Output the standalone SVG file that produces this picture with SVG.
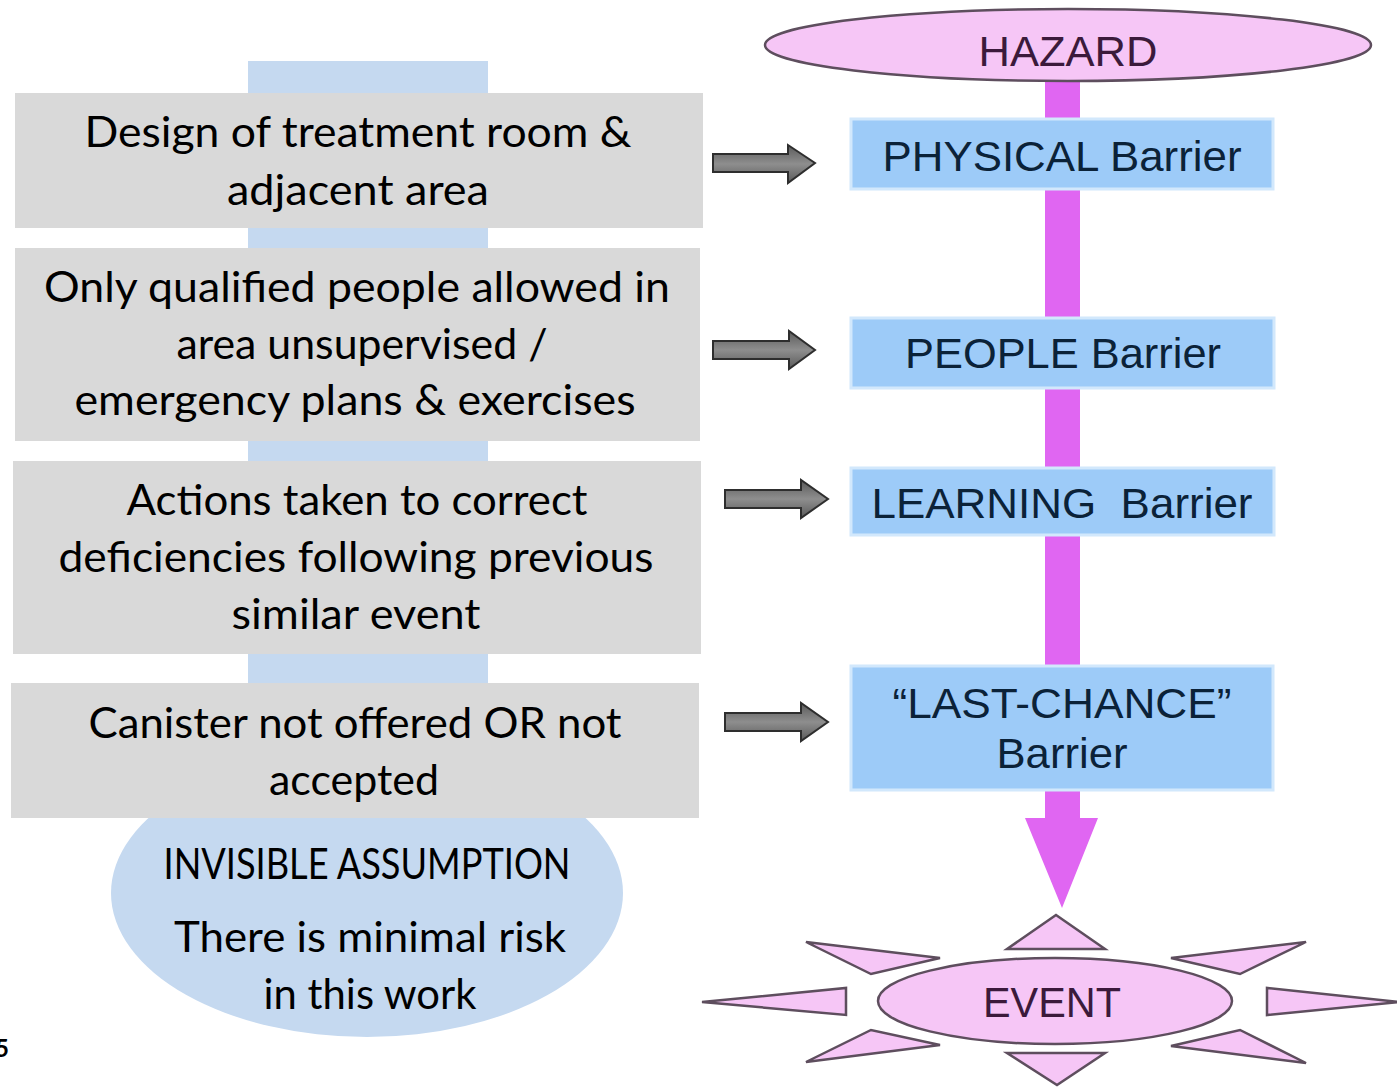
<svg xmlns="http://www.w3.org/2000/svg" width="1397" height="1087" viewBox="0 0 1397 1087">
<style>
.box{fill:#D9D9D9}
.lt{font-family:Lato,'Liberation Sans',sans-serif;font-size:42px;fill:#000;text-anchor:middle}
.bar{fill:#9DCBF8;stroke:#D2E8FC;stroke-width:3}
.bt{font-family:'Liberation Sans',Arial,sans-serif;font-size:42px;fill:#0B2238;text-anchor:middle}
.pink{fill:#F6C6F6;stroke:#5E4E5E;stroke-width:2.5}
.pt{font-family:'Liberation Sans',Arial,sans-serif;font-size:42px;fill:#3B1A3B;text-anchor:middle}
.garrow{fill:url(#gg);stroke:#2E2E2E;stroke-width:2}
.blue{fill:#C5D9F0}
</style>
<defs>
<linearGradient id="gg" x1="0" y1="0" x2="0" y2="1">
<stop offset="0" stop-color="#5A5A5A"/>
<stop offset="0.5" stop-color="#8E8E8E"/>
<stop offset="1" stop-color="#5A5A5A"/>
</linearGradient>
</defs>
<rect width="1397" height="1087" fill="#FFFFFF"/>

<g id="backdrop">
<rect class="blue" x="248" y="61" width="240" height="660"/>
</g>

<g id="assumption">
<ellipse class="blue" cx="367" cy="893" rx="256" ry="144"/>
<text class="lt" x="367" y="879" font-size="33" textLength="407" lengthAdjust="spacingAndGlyphs">INVISIBLE ASSUMPTION</text>
<text class="lt" x="370" y="952" textLength="392" lengthAdjust="spacingAndGlyphs">There is minimal risk</text>
<text class="lt" x="370" y="1009" textLength="213" lengthAdjust="spacingAndGlyphs">in this work</text>
</g>

<g id="box-design">
<rect class="box" x="15" y="93" width="688" height="135"/>
<text class="lt" x="358" y="147" textLength="547" lengthAdjust="spacingAndGlyphs">Design of treatment room &amp;</text>
<text class="lt" x="358" y="205" textLength="262" lengthAdjust="spacingAndGlyphs">adjacent area</text>
</g>

<g id="box-people">
<rect class="box" x="15" y="248" width="685" height="193"/>
<text class="lt" x="357" y="302" textLength="626" lengthAdjust="spacingAndGlyphs">Only qualified people allowed in</text>
<text class="lt" x="362" y="359" textLength="371" lengthAdjust="spacingAndGlyphs">area unsupervised /</text>
<text class="lt" x="355" y="415" textLength="561" lengthAdjust="spacingAndGlyphs">emergency plans &amp; exercises</text>
</g>

<g id="box-actions">
<rect class="box" x="13" y="461" width="688" height="193"/>
<text class="lt" x="357" y="515" textLength="461" lengthAdjust="spacingAndGlyphs">Actions taken to correct</text>
<text class="lt" x="356" y="572" textLength="595" lengthAdjust="spacingAndGlyphs">deficiencies following previous</text>
<text class="lt" x="356" y="629" textLength="249" lengthAdjust="spacingAndGlyphs">similar event</text>
</g>

<g id="box-canister">
<rect class="box" x="11" y="683" width="688" height="135"/>
<text class="lt" x="355" y="738" textLength="533" lengthAdjust="spacingAndGlyphs">Canister not offered OR not</text>
<text class="lt" x="354" y="795" textLength="170" lengthAdjust="spacingAndGlyphs">accepted</text>
</g>

<g id="connectors">
<path d="M1045,80 H1080 V818 H1098 L1062,908 L1025,818 H1045 Z" fill="#E066F2"/>
<path class="garrow" d="M713,154 H788 V145 L815,163 L788,183 V172 H713 Z"/>
<path class="garrow" d="M713,341 H789 V331 L815,350 L789,369 V359 H713 Z"/>
<path class="garrow" d="M725,490 H801 V480 L828,499 L801,518 V508 H725 Z"/>
<path class="garrow" d="M725,713 H801 V703 L828,722 L801,741 V731 H725 Z"/>
</g>

<g id="hazard">
<ellipse class="pink" cx="1068" cy="45" rx="303" ry="36"/>
<text class="pt" x="1068" y="66" textLength="179" lengthAdjust="spacingAndGlyphs">HAZARD</text>
</g>

<g id="physical-barrier">
<rect class="bar" x="851" y="119" width="422" height="70"/>
<text class="bt" x="1062" y="171" textLength="359" lengthAdjust="spacingAndGlyphs">PHYSICAL Barrier</text>
</g>

<g id="people-barrier">
<rect class="bar" x="851" y="318" width="423" height="70"/>
<text class="bt" x="1063" y="368" textLength="316" lengthAdjust="spacingAndGlyphs">PEOPLE Barrier</text>
</g>

<g id="learning-barrier">
<rect class="bar" x="851" y="468" width="423" height="67"/>
<text class="bt" x="1062" y="518" textLength="381" lengthAdjust="spacingAndGlyphs">LEARNING&#160; Barrier</text>
</g>

<g id="last-chance-barrier">
<rect class="bar" x="851" y="666" width="422" height="124"/>
<text class="bt" x="1062" y="718" textLength="339" lengthAdjust="spacingAndGlyphs">“LAST-CHANCE”</text>
<text class="bt" x="1062" y="768" textLength="131" lengthAdjust="spacingAndGlyphs">Barrier</text>
</g>

<g id="event">
<polygon class="pink" points="1007,949 1056,915 1105,949"/>
<polygon class="pink" points="1007,1053 1105,1053 1057,1085"/>
<polygon class="pink" points="846,988 846,1015 702,1002"/>
<polygon class="pink" points="1267,988 1267,1015 1400,1002"/>
<polygon class="pink" points="806,942 940,958 871,974"/>
<polygon class="pink" points="1306,942 1171,958 1240,974"/>
<polygon class="pink" points="806,1062 940,1045 871,1030"/>
<polygon class="pink" points="1306,1063 1171,1046 1240,1030"/>
<ellipse class="pink" cx="1055" cy="1001" rx="177" ry="43"/>
<text class="pt" x="1052" y="1017" textLength="138" lengthAdjust="spacingAndGlyphs">EVENT</text>
</g>

<text x="-5" y="1057" font-family="Lato,'Liberation Sans',sans-serif" font-size="24" font-weight="bold" fill="#000">5</text>
</svg>
